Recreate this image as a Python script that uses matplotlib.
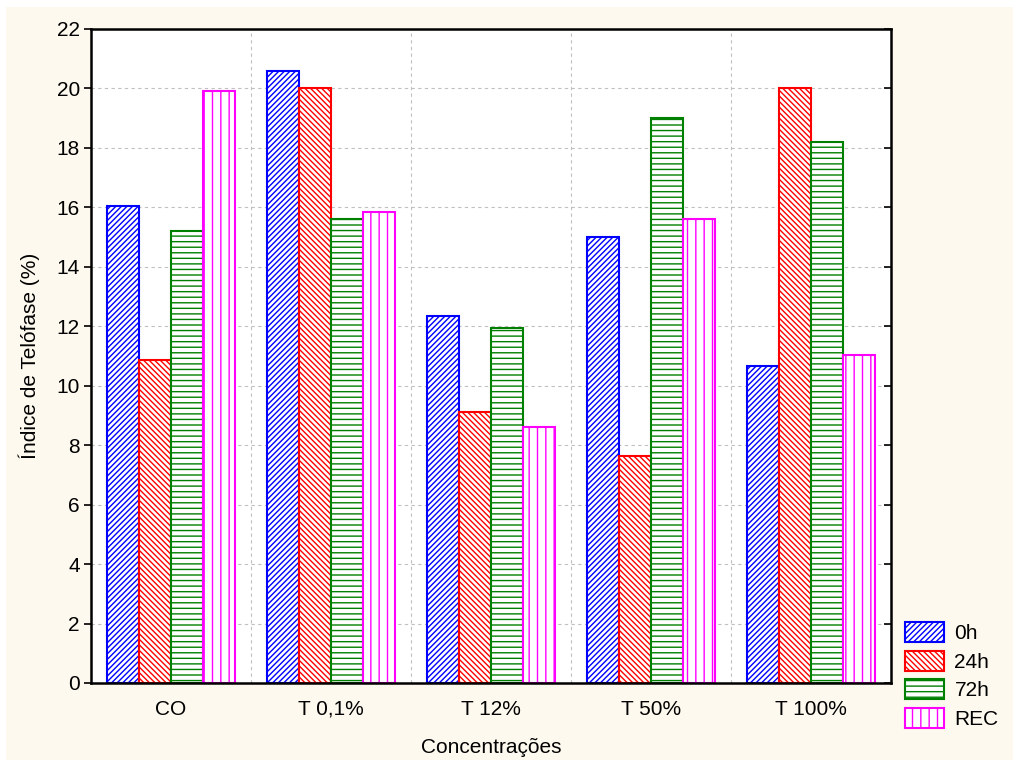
import matplotlib
matplotlib.use("Agg")
import matplotlib.pyplot as plt
from matplotlib.patches import Rectangle
import numpy as np

plt.rcParams["font.family"] = ["Liberation Sans", "DejaVu Sans"]
plt.rcParams["hatch.linewidth"] = 1.0

categories = ["CO", "T 0,1%", "T 12%", "T 50%", "T 100%"]
series_names = ["0h", "24h", "72h", "REC"]
values_0h = [16.05, 20.6, 12.35, 15.0, 10.65]
values_24h = [10.85, 20.0, 9.1, 7.65, 20.0]
values_72h = [15.2, 15.6, 11.95, 19.0, 18.2]
values_rec = [19.9, 15.85, 8.6, 15.6, 11.05]
y_ticks = list(range(0, 23, 2))

all_values = [values_0h, values_24h, values_72h, values_rec]
colors = ["#0000ff", "#ff0000", "#008000", "#ff00ff"]
hatches = ["//////", "\\\\\\\\\\\\", "---", "||"]

fig = plt.figure(figsize=(10.13, 7.63), dpi=100, facecolor="white")
# cream panel behind everything
fig.patches.append(Rectangle((6 / 1013, 3 / 763), 1 - 6 / 1013, 1 - 10 / 763,
                             transform=fig.transFigure, facecolor="#fdf9ee",
                             edgecolor="none", zorder=-10))

ax = fig.add_axes([91 / 1013, 1 - 683 / 763, 800 / 1013, 654 / 763])
ax.set_facecolor("white")

x = np.arange(len(categories))
width = 0.2
for i, (name, vals) in enumerate(zip(series_names, all_values)):
    offset = (i - 1.5) * width
    ax.bar(x + offset, vals, width, facecolor="white", edgecolor=colors[i],
           hatch=hatches[i], linewidth=1.5, label=name, zorder=3)

ax.set_xlim(-0.5, 4.5)
ax.set_ylim(0, 22)
ax.set_yticks(y_ticks)
ax.set_xticks(x)
ax.set_xticklabels(categories, fontsize=15)
ax.set_xticks(np.arange(0.5, 4.5, 1.0), minor=True)
ax.tick_params(axis="x", which="both", length=0, pad=12)
ax.tick_params(axis="y", labelsize=15, length=5, width=1.2, right=True, pad=3)
ax.grid(True, which="major", axis="y", linestyle=(0, (3, 3)), color="#c0c0c0", linewidth=0.8, zorder=0)
ax.grid(True, which="minor", axis="x", linestyle=(0, (3, 3)), color="#c0c0c0", linewidth=0.8, zorder=0)
for spine in ax.spines.values():
    spine.set_linewidth(1.8)
    spine.set_zorder(5)

# right-side ticks point inward
for t in ax.yaxis.get_major_ticks():
    t.tick2line.set_marker(0)

ax.set_xlabel("Concentrações", fontsize=15, labelpad=14)
ax.set_ylabel("Índice de Telófase (%)", fontsize=15, labelpad=12)

legend = ax.legend(loc="lower left", bbox_to_anchor=(905 / 1013, 1 - 729 / 763),
                   bbox_transform=fig.transFigure, frameon=False, fontsize=15,
                   handlelength=1.87, handleheight=1.1, handletextpad=0.5,
                   labelspacing=0.36, borderpad=0, borderaxespad=0)

fig.savefig("out.png", dpi=100, facecolor=fig.get_facecolor())
